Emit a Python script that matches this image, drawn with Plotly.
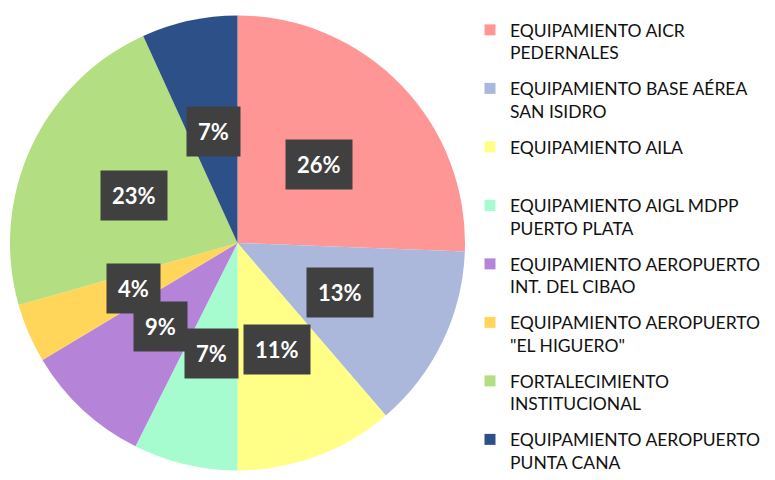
import numpy as np
import plotly.graph_objects as go

labels = [
    "EQUIPAMIENTO AICR<br>PEDERNALES",
    "EQUIPAMIENTO BASE AÉREA<br>SAN ISIDRO",
    "EQUIPAMIENTO AILA<br>\u00a0",
    "EQUIPAMIENTO AIGL MDPP<br>PUERTO PLATA",
    "EQUIPAMIENTO AEROPUERTO<br>INT. DEL CIBAO",
    "EQUIPAMIENTO AEROPUERTO<br>\"EL HIGUERO\"",
    "FORTALECIMIENTO<br>INSTITUCIONAL",
    "EQUIPAMIENTO AEROPUERTO<br>PUNTA CANA",
]
values = [25.6, 13.1, 11.3, 7.4, 9.0, 4.2, 22.6, 6.8]
colors = ["#FF9696", "#ABB8DB", "#FFFF88", "#A6FBCF",
          "#B584D8", "#FFD55A", "#B3DE81", "#2E5088"]

W, H = 775, 480
cx, cy, R = 237.5, 243, 227.5  # pie centre / radius in px

fig = go.Figure()
fig.add_trace(go.Pie(
    labels=labels,
    values=values,
    sort=False,
    direction="clockwise",
    rotation=0,
    marker=dict(colors=colors, line=dict(width=0)),
    textinfo="none",
    hoverinfo="label+percent",
    showlegend=False,
    domain=dict(x=[(cx - R) / W, (cx + R) / W],
                y=[(H - cy - R) / H, (H - cy + R) / H]),
))

# legend entries (one group each so tracegroupgap spaces them like the original)
for i, (lab, col) in enumerate(zip(labels, colors)):
    fig.add_trace(go.Scatter(
        x=[None], y=[None], mode="markers", name=lab,
        marker=dict(symbol="square", size=11, color=col),
        legendgroup=str(i), hoverinfo="skip",
    ))

# percentage labels in dark boxes at half radius, mid-angle of each slice
vals = np.array(values)
frac = vals / vals.sum()
mid = (np.cumsum(frac) - frac / 2) * 2 * np.pi
for f, a in zip(frac, mid):
    x = (cx + 0.5 * R * np.sin(a)) / W
    y = (H - cy + 0.5 * R * np.cos(a)) / H
    txt = f"{round(f * 100):.0f}%"
    fig.add_annotation(x=x, y=y, xref="paper", yref="paper",
                       text=f"<b>{txt}</b>", showarrow=False,
                       xanchor="center", yanchor="middle",
                       font=dict(family="Lato", size=22, color="white"),
                       bgcolor="#404040", borderpad=11)

fig.update_layout(
    width=W, height=H,
    margin=dict(l=0, r=0, t=0, b=0),
    paper_bgcolor="white",
    plot_bgcolor="white",
    xaxis=dict(visible=False),
    yaxis=dict(visible=False),
    font=dict(family="Lato", color="#1a1a1a"),
    legend=dict(x=470 / W, xanchor="left", y=0, yanchor="bottom",
                valign="top", bgcolor="rgba(0,0,0,0)", tracegroupgap=10,
                font=dict(family="Lato", size=17.5, color="#111111")),
    showlegend=True,
)

fig.write_html("out.html", config={"displayModeBar": False},
               post_script="document.body.style.margin='0';")
